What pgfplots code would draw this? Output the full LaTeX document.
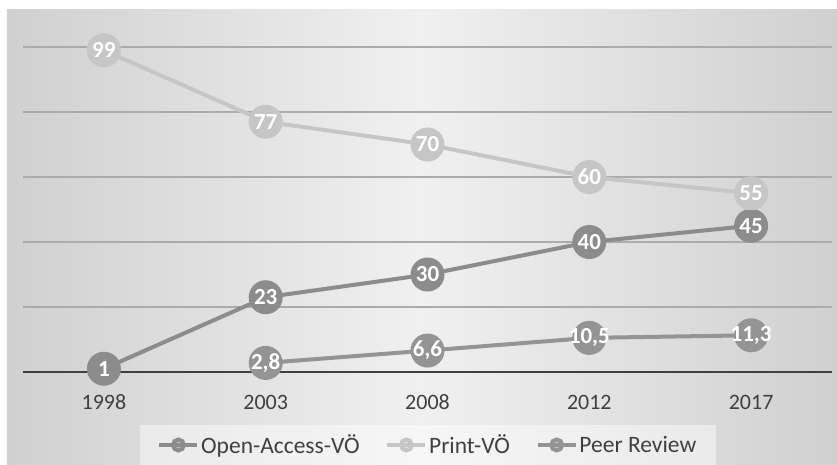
\documentclass[border=0pt]{standalone}
\usepackage{pgfplots}
\pgfplotsset{compat=1.18}
\usepackage{fontspec}
\setmainfont{Carlito}
\definecolor{oacol}{HTML}{8C8C8C}
\definecolor{prcol}{HTML}{C6C6C6}
\definecolor{pecol}{HTML}{949494}
\definecolor{bgedge}{HTML}{D0D0D0}
\definecolor{bgmid}{HTML}{F0F0F0}
\definecolor{gridcol}{HTML}{ABABAB}
\definecolor{txtcol}{HTML}{404040}
\begin{document}
\begin{tikzpicture}[x=1pt,y=1pt]
\useasboundingbox (-23,-92) rectangle (814,372);
\fill[white] (-23,-92) rectangle (814,372);
\shade[left color=bgedge, right color=bgedge, middle color=bgmid] (-16,-92) rectangle (814,362);
\begin{axis}[
    at={(0,0)}, anchor=south west,
    width=809pt, height=325pt, scale only axis,
    xmin=-0.5, xmax=4.5,
    ymin=0, ymax=100,
    clip=false,
    axis line style={draw=none},
    xtick={0,1,2,3,4},
    xticklabels={1998,2003,2008,2012,2017},
    ytick={0,20,40,60,80,100},
    yticklabels={},
    major tick length=0pt,
    ymajorgrids=true,
    grid style={gridcol, line width=1.3pt},
    xticklabel style={font=\fontsize{22}{24}\selectfont, text=txtcol, anchor=base, yshift=-37pt},
    every node near coord/.append style={anchor=center, font=\bfseries\fontsize{23}{25}\selectfont, text=white},
    nodes near coords,
    /pgf/number format/use comma,
    /pgf/number format/assume math mode=true,
    legend columns=3,
    legend style={at={(0.5006,-0.2246)}, anchor=center, fill=white, fill opacity=0.45, text opacity=1, draw=none,
        font=\fontsize{23.5}{26}\selectfont, text=txtcol, inner xsep=18pt, inner ysep=8pt,
        /tikz/every odd column/.append style={column sep=0pt},
        /tikz/every even column/.append style={column sep=24pt}},
    legend image code/.code={
        \draw[#1, line width=3.5pt, mark=none] (0pt,0pt) -- (38pt,0pt);
        \fill[#1] (19pt,0pt) circle (5.5pt);
    },
]
\addplot[oacol, line width=4pt, mark=*, mark size=15pt, mark options={fill=oacol, draw=oacol}]
    coordinates {(0,1) (1,23) (2,30) (3,40) (4,45)};
\addlegendentry{Open-Access-VÖ}
\addplot[prcol, line width=4pt, mark=*, mark size=15pt, mark options={fill=prcol, draw=prcol}]
    coordinates {(0,99) (1,77) (2,70) (3,60) (4,55)};
\addlegendentry{Print-VÖ}
\addplot[pecol, line width=4pt, mark=*, mark size=15pt, mark options={fill=pecol, draw=pecol}]
    coordinates {(1,2.8) (2,6.6) (3,10.5) (4,11.3)};
\addlegendentry{Peer Review}
\draw[txtcol, line width=2pt] (axis cs:-0.5,0) -- (axis cs:4.5,0);
\end{axis}
\end{tikzpicture}
\end{document}
